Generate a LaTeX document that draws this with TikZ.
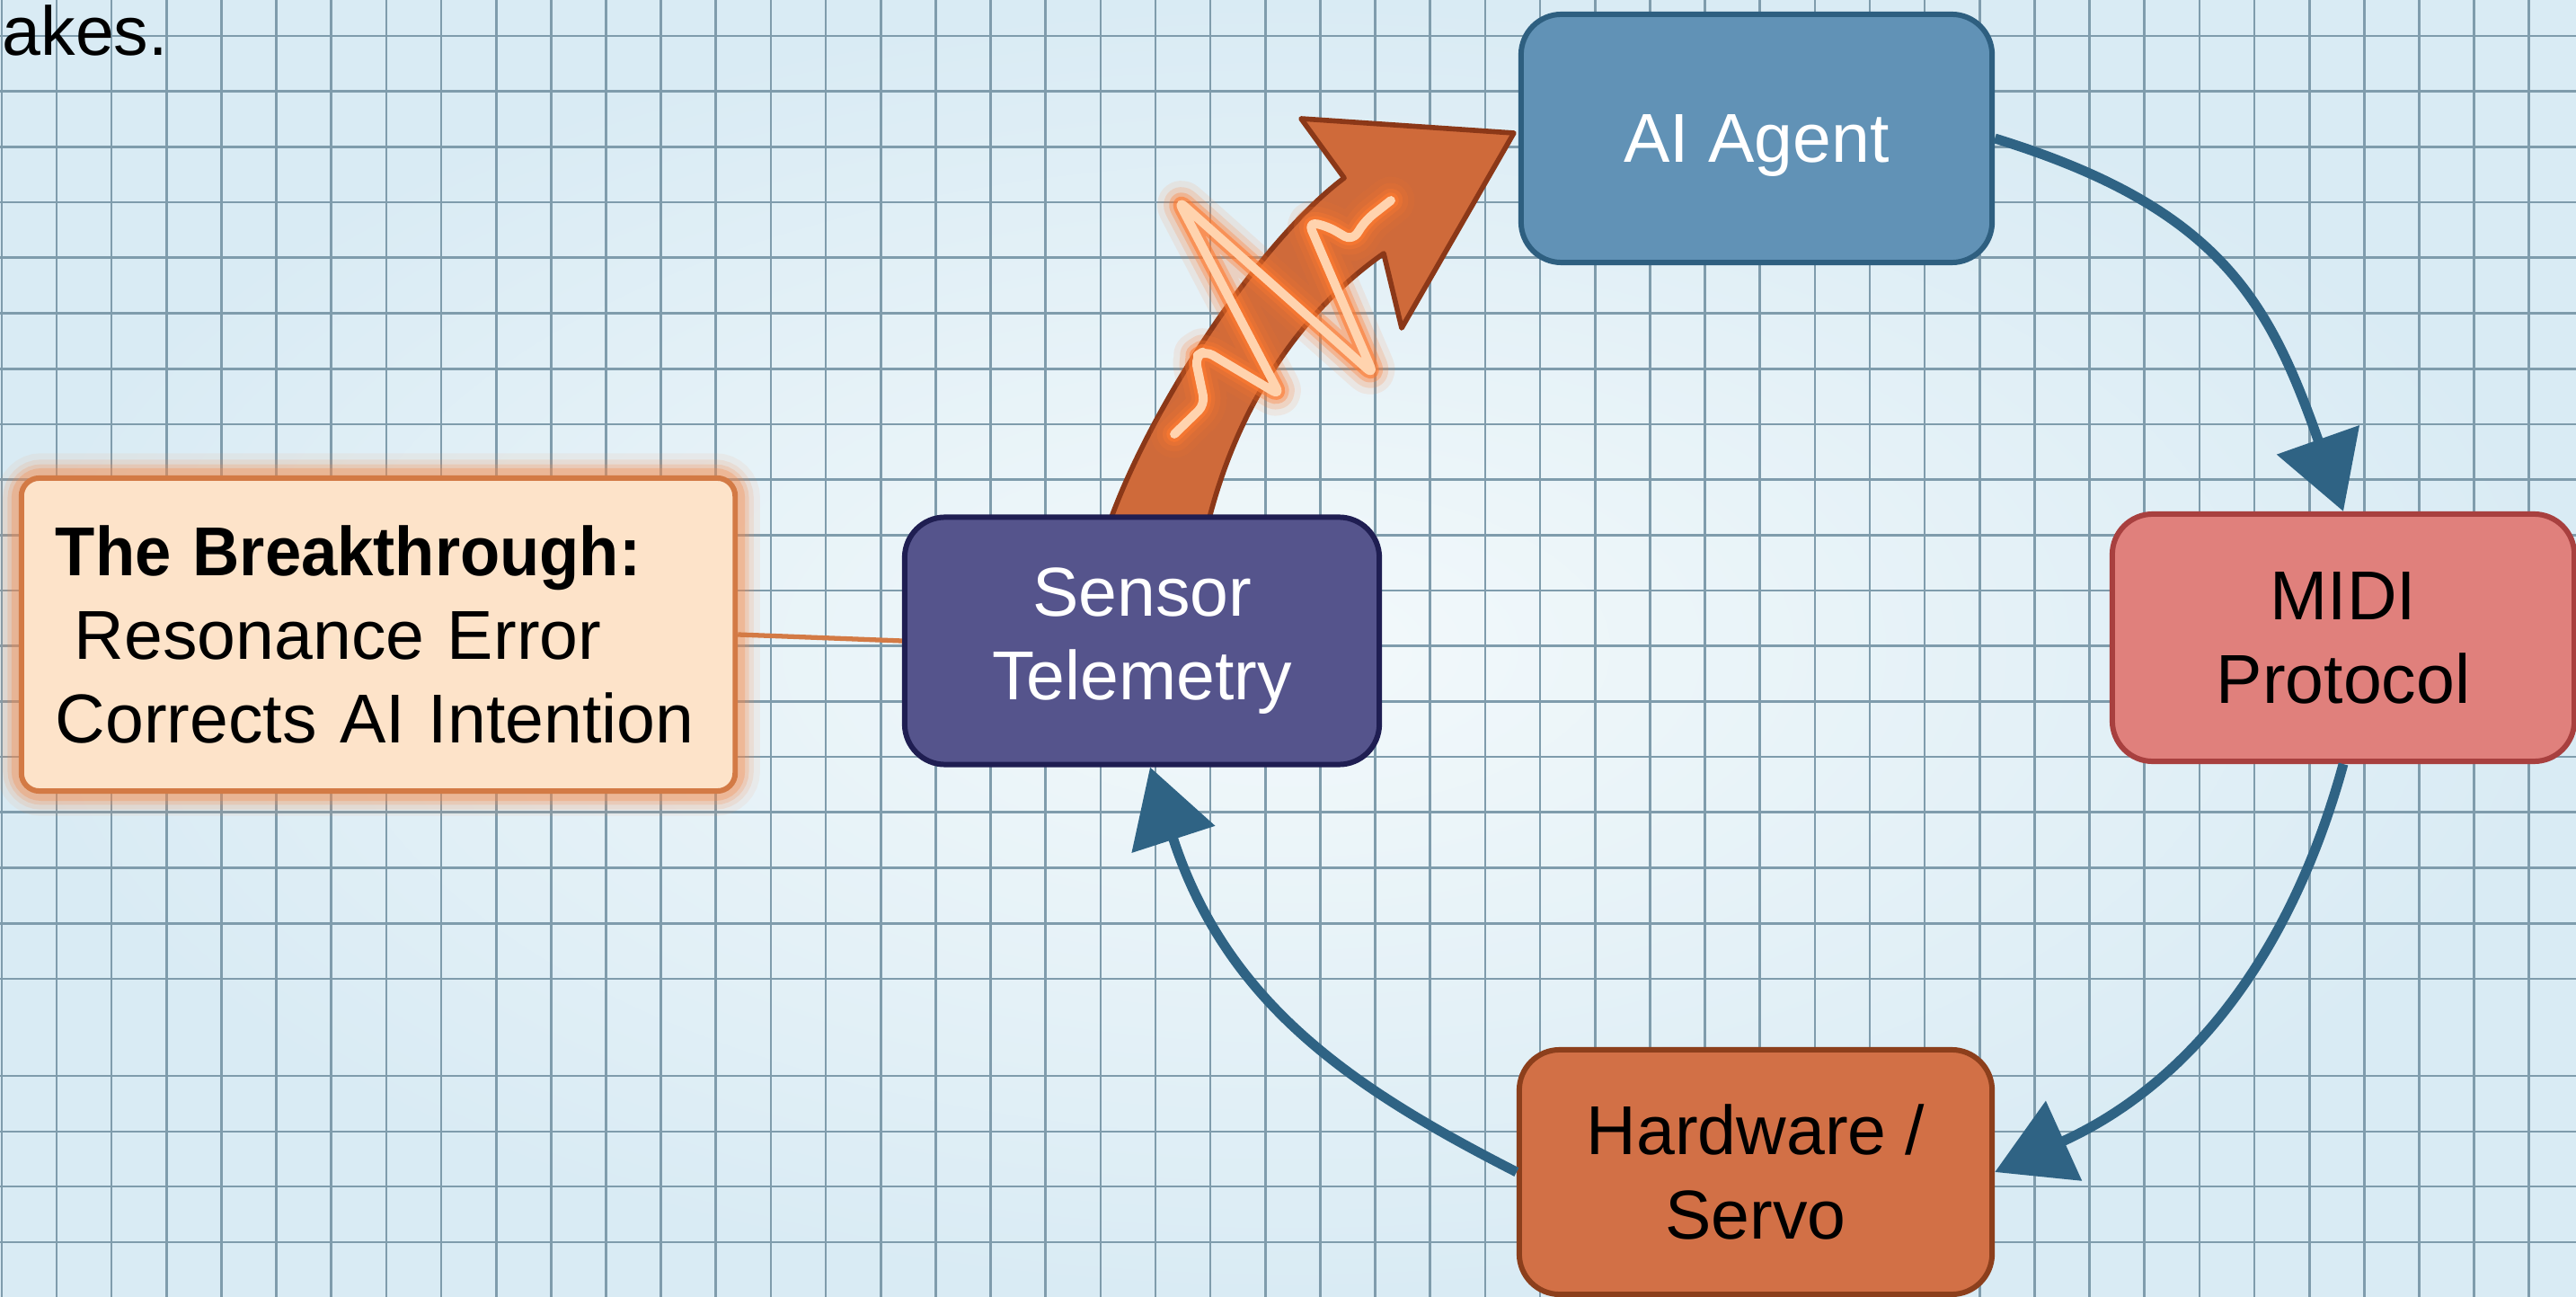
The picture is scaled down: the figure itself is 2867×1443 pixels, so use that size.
\documentclass[tikz,border=0pt]{standalone}
\usepackage{fontspec}
\setmainfont{Liberation Sans}
\usetikzlibrary{arrows.meta,calc}
\pgfdeclarelayer{bglayer}
\pgfdeclarelayer{midlayer}
\pgfsetlayers{bglayer,midlayer,main}
\definecolor{bgin}{HTML}{F3F9FB}
\definecolor{bgout}{HTML}{D9EBF4}
\definecolor{gridc}{HTML}{7F9CAC}
\definecolor{flowc}{HTML}{2F6384}
\definecolor{agentfill}{HTML}{6192B6}
\definecolor{agentdraw}{HTML}{2E5F80}
\definecolor{midifill}{HTML}{E0807C}
\definecolor{mididraw}{HTML}{A8403F}
\definecolor{hwfill}{HTML}{D27046}
\definecolor{hwdraw}{HTML}{8C3F1C}
\definecolor{sensfill}{HTML}{55548C}
\definecolor{sensdraw}{HTML}{1F1E52}
\definecolor{btfill}{HTML}{FDE3C9}
\definecolor{btdraw}{HTML}{D37A45}
\definecolor{glowc}{HTML}{F58A4A}
\definecolor{arrfill}{HTML}{CF6A3A}
\definecolor{arrdraw}{HTML}{8B3818}
\definecolor{squigc}{HTML}{FFD3AE}
\definecolor{squigglow}{HTML}{FF7A30}
\begin{document}
\begin{tikzpicture}[x=0.01cm,y=-0.01cm,
  gridline/.style={draw=gridc, line width=0.75pt},
  bigfont/.style={font=\fontsize{21.9pt}{26.5pt}\selectfont},
  stage/.style={rectangle, rounded corners=0.45cm, line width=1.7pt, inner sep=0pt,
     bigfont, align=center},
  btbox/.style={rectangle, rounded corners=0.2cm, fill=btfill, draw=btdraw, line width=1.7pt,
     minimum width=7.94cm, minimum height=3.48cm, text width=7.18cm, align=left,
     inner sep=0pt, bigfont},
  flow/.style={draw=flowc, line width=3.1pt, -{Triangle[length=24pt,width=27pt]}},
  btline/.style={draw=btdraw, line width=1.5pt},
  squig/.style={rounded corners=0.1cm, line cap=round, line join=round}
]
\useasboundingbox (0,0) rectangle (2867,1443);

% background and grid
\begin{pgfonlayer}{bglayer}
  \shade[inner color=bgin, outer color=bgout] (0,0) rectangle (2867,1443);
  \foreach \k in {0,...,46} {
    \draw[gridline] ({1.85+61.15*\k},0) -- ({1.85+61.15*\k},1443);
  }
  \foreach \k in {0,...,17} {
    \draw[gridline] (0,{40+61.7*\k}) -- (2867,{40+61.7*\k});
  }
  \foreach \yy in {1197,1259,1320,1382} {
    \draw[gridline] (0,\yy) -- (2867,\yy);
  }
\end{pgfonlayer}

% text fragment top-left
\node[anchor=base west, inner sep=0pt, bigfont] (akes) at (2,62) {akes.};

% nodes
\node[stage, fill=agentfill, draw=agentdraw, text=white, text depth=0pt,
      minimum width=5.24cm, minimum height=2.76cm] (agent) at (1955,154) {AI Agent};
\node[stage, fill=midifill, draw=mididraw, text=black,
      minimum width=5.14cm, minimum height=2.75cm] (midi) at (2608,709.5) {MIDI\\Protocol};
\node[stage, fill=hwfill, draw=hwdraw, text=black,
      minimum width=5.26cm, minimum height=2.72cm] (hw) at (1954,1304) {Hardware /\\Servo};
\node[stage, fill=sensfill, draw=sensdraw, text=white,
      minimum width=5.28cm, minimum height=2.75cm] (sensor) at (1271,713) {Sensor\\Telemetry};
\node[btbox] (bt) at (421,706)
  {\scalebox{0.94}[1]{\textbf{The Breakthrough:}}\\\hspace*{0.21cm}Resonance Error\\Corrects AI Intention};

% glow, big arrow, squiggle
\begin{pgfonlayer}{midlayer}
  \foreach \w/\o in {14/0.08, 10/0.13, 7/0.2, 4.5/0.3} {
    \draw[glowc, line width=\w pt, opacity=\o, rounded corners=0.25cm]
      (bt.north west) rectangle (bt.south east);
  }
  \filldraw[fill=arrfill, draw=arrdraw, line width=1.6pt, line join=round]
    ($(sensor.north)+(-40,20)$) .. controls (1275,460) and (1400,270) .. (1496,198)
    -- (1448,132) -- ($(agent.west)+(-5,-6)$) -- (1560,365) -- (1540,282)
    .. controls (1450,345) and (1375,450) .. ($(sensor.north)+(71,20)$);
  \foreach \w/\o in {15/0.10, 11/0.18, 7.5/0.32, 5/0.6} {
    \draw[squig, draw=squigglow, line width=\w pt, opacity=\o]
      (1307,483) -- (1341,450) -- (1330,397) -- (1341,390) -- (1425,440) -- (1311,223)
      -- (1529,417) -- (1456,247) -- (1478,252) -- (1505,268) -- (1520,245) -- (1548,223);
  }
  \draw[squig, draw=squigc, line width=2.8pt]
      (1307,483) -- (1341,450) -- (1330,397) -- (1341,390) -- (1425,440) -- (1311,223)
      -- (1529,417) -- (1456,247) -- (1478,252) -- (1505,268) -- (1520,245) -- (1548,223);
\end{pgfonlayer}

% connectors
\draw[btline] (bt.east) -- (sensor.west);
\draw[flow] (agent.east) .. controls +(250,77) and +(-83,-235) .. (midi.north);
\draw[flow] (midi.south) .. controls +(-61,222) and +(210,-95) .. (hw.east);
\draw[flow] (hw.west) .. controls +(-178,-91) and +(86,266) .. ($(sensor.south)+(9,0)$);
\end{tikzpicture}
\end{document}
